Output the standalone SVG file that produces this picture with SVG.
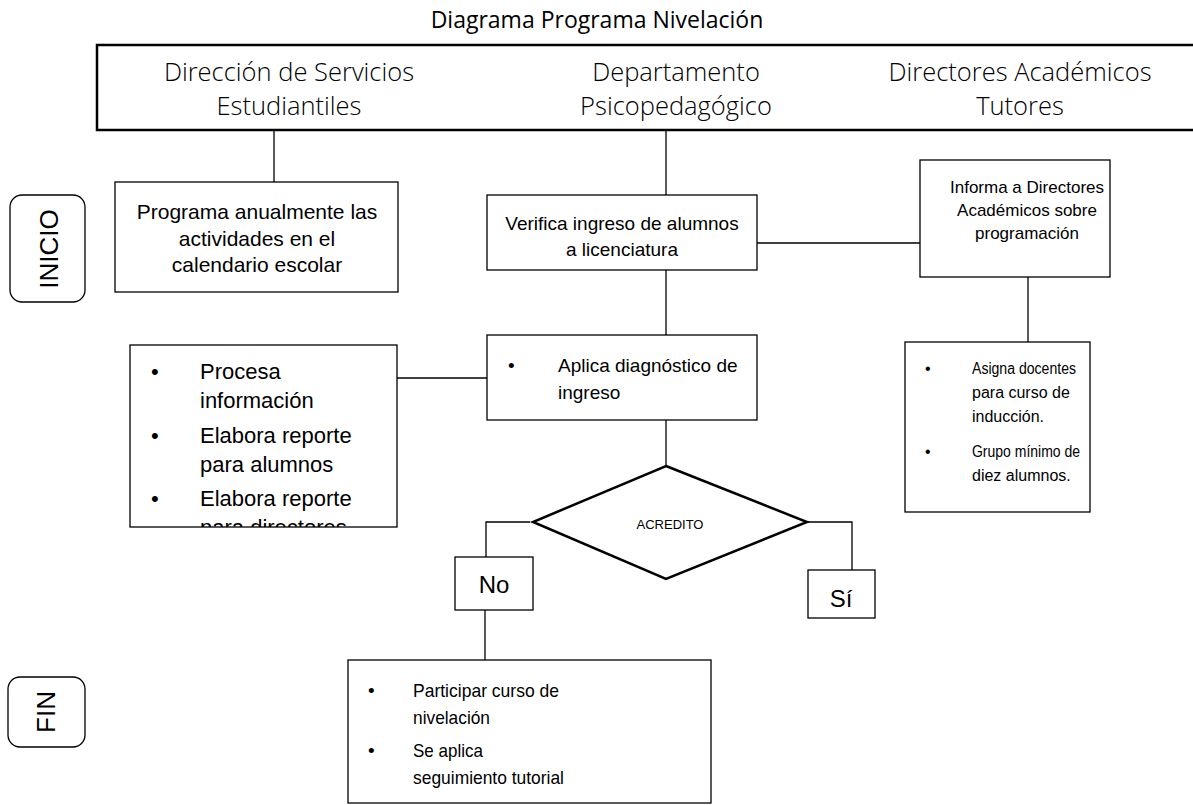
<svg xmlns="http://www.w3.org/2000/svg" width="1193" height="805" viewBox="0 0 1193 805">
<style>
.b{fill:#fff;stroke:#000;stroke-width:1.3}
.c{fill:none;stroke:#000;stroke-width:1.3}
.t{font-family:"Liberation Sans",Arial,sans-serif;fill:#000}
.h{font-family:"Open Sans","Lato",sans-serif;font-weight:300;font-size:25.5px;fill:#000;text-anchor:middle}
.m{text-anchor:middle}
</style>
<defs>
<clipPath id="clipL"><rect x="130" y="345" width="267" height="182"/></clipPath>
</defs>
<rect width="1193" height="805" fill="#fff"/>
<text x="597" y="28" text-anchor="middle" style="font-family:'Open Sans',sans-serif;font-size:23px;fill:#000">Diagrama Programa Nivelación</text>
<g id="header">
<path d="M1193 45 H97 V130 H1193" fill="none" stroke="#000" stroke-width="2.5"/>
<text class="h" x="289" y="81">Dirección de Servicios</text>
<text class="h" x="289" y="115">Estudiantiles</text>
<text class="h" x="676" y="81">Departamento</text>
<text class="h" x="676" y="115">Psicopedagógico</text>
<text class="h" x="1020" y="81">Directores Académicos</text>
<text class="h" x="1020" y="115">Tutores</text>
</g>
<g id="connectors">
<path class="c" d="M274 130 V182"/>
<path class="c" d="M666 130 V195"/>
<path class="c" d="M757 243 H920" stroke-width="2"/>
<path class="c" d="M666 270 V335"/>
<path class="c" d="M1028 277 V342"/>
<path class="c" d="M487 378 H397"/>
<path class="c" d="M666 420 V466" stroke-width="2"/>
<path class="c" d="M530 522 H486 V557"/>
<path class="c" d="M807 522 H852 V570"/>
<path class="c" d="M485 610 V660"/>
</g>
<g id="inicio">
<rect class="b" x="10" y="195" width="75" height="107" rx="12"/>
<text class="t m" font-size="26" transform="translate(58 249) rotate(-90)">INICIO</text>
</g>
<g id="programa">
<rect class="b" x="115" y="182" width="283" height="110"/>
<text class="t m" font-size="21" x="257" y="219">Programa anualmente las</text>
<text class="t m" font-size="21" x="257" y="246">actividades en el</text>
<text class="t m" font-size="21" x="257" y="272">calendario escolar</text>
</g>
<g id="verifica">
<rect class="b" x="487" y="195" width="270" height="75"/>
<text class="t m" font-size="19" x="622" y="230">Verifica ingreso de alumnos</text>
<text class="t m" font-size="19" x="622" y="256">a licenciatura</text>
</g>
<g id="informa">
<rect class="b" x="920" y="160" width="190" height="117"/>
<text class="t m" font-size="17" x="1027" y="193">Informa a Directores</text>
<text class="t m" font-size="17" x="1027" y="216">Académicos sobre</text>
<text class="t m" font-size="17" x="1027" y="239">programación</text>
</g>
<g id="aplica">
<rect class="b" x="487" y="335" width="270" height="85"/>
<text class="t" font-size="19" x="508" y="372">•</text>
<text class="t" font-size="19" x="558" y="372">Aplica diagnóstico de</text>
<text class="t" font-size="19" x="558" y="399">ingreso</text>
</g>
<g id="procesa">
<rect class="b" x="130" y="345" width="267" height="182"/>
<g clip-path="url(#clipL)" class="t" font-size="22">
<text x="151" y="379">•</text>
<text x="200" y="379">Procesa</text>
<text x="200" y="408">información</text>
<text x="151" y="443">•</text>
<text x="200" y="443">Elabora reporte</text>
<text x="200" y="472">para alumnos</text>
<text x="151" y="506">•</text>
<text x="200" y="506">Elabora reporte</text>
<text x="200" y="535">para directores</text>
</g>
</g>
<g id="asigna">
<rect class="b" x="905" y="342" width="185" height="170"/>
<g class="t" font-size="16">
<text x="925" y="374">•</text>
<text x="972" y="374" textLength="104" lengthAdjust="spacingAndGlyphs">Asigna docentes</text>
<text x="972" y="398">para curso de</text>
<text x="972" y="422">inducción.</text>
<text x="925" y="457">•</text>
<text x="972" y="457" textLength="108" lengthAdjust="spacingAndGlyphs">Grupo mínimo de</text>
<text x="972" y="481">diez alumnos.</text>
</g>
</g>
<g id="acredito">
<polygon points="666,466 807,522 666,579 533,522" fill="#fff" stroke="#000" stroke-width="2.5"/>
<text class="t m" font-size="13" x="670" y="529">ACREDITO</text>
</g>
<g id="no">
<rect class="b" x="455" y="557" width="78" height="53"/>
<text class="t m" font-size="24" x="494" y="593">No</text>
</g>
<g id="si">
<rect class="b" x="808" y="570" width="67" height="48"/>
<text class="t m" font-size="24" x="841" y="607">Sí</text>
</g>
<g id="nivelacion">
<rect class="b" x="348" y="660" width="363" height="143"/>
<g class="t" font-size="19">
<text x="368" y="697">•</text>
<text x="413" y="697" textLength="146" lengthAdjust="spacingAndGlyphs">Participar curso de</text>
<text x="413" y="724" textLength="77" lengthAdjust="spacingAndGlyphs">nivelación</text>
<text x="368" y="757">•</text>
<text x="413" y="757" textLength="70" lengthAdjust="spacingAndGlyphs">Se aplica</text>
<text x="413" y="784" textLength="151" lengthAdjust="spacingAndGlyphs">seguimiento tutorial</text>
</g>
</g>
<g id="fin">
<rect class="b" x="8" y="677" width="77" height="70" rx="12"/>
<text class="t m" font-size="26" transform="translate(55 712) rotate(-90)">FIN</text>
</g>
</svg>
